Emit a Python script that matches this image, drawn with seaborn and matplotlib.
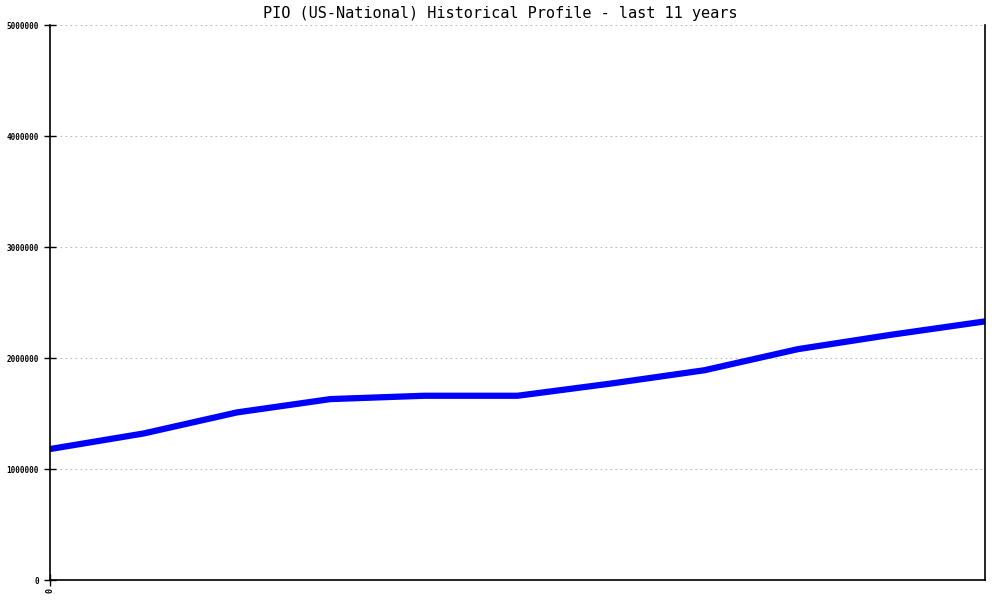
import matplotlib
matplotlib.use("Agg")
import matplotlib.pyplot as plt
import seaborn as sns
import pandas as pd

# data (one point per year, last 11 years)
years = list(range(11))
subscribers = [1180000, 1320000, 1510000, 1630000, 1660000, 1660000,
               1770000, 1890000, 2080000, 2210000, 2330000]
y_ticks = [0, 1000000, 2000000, 3000000, 4000000, 5000000]
title = "PIO (US-National) Historical Profile - last 11 years"

sns.set_style("white")
plt.rcParams['font.family'] = ['DejaVu Sans Mono', 'DejaVu Sans']
plt.rcParams['text.color'] = 'black'
plt.rcParams['xtick.color'] = 'black'
plt.rcParams['ytick.color'] = 'black'

df = pd.DataFrame({"year": years, "value": subscribers})

fig = plt.figure(figsize=(10, 6), dpi=100)
ax = fig.add_axes([0.05, 0.0333, 0.935, 0.925])

sns.lineplot(data=df, x="year", y="value", color="#0000ff", linewidth=4.5, ax=ax)

ax.set_xlim(0, 10)
ax.set_ylim(0, 5000000)
ax.set_yticks(y_ticks)
ax.set_yticklabels([str(v) for v in y_ticks], fontsize=5.5, fontweight="bold")
ax.set_xticks([0])
ax.set_xticklabels(["0"], rotation=90, fontsize=6, fontweight="bold")
ax.tick_params(axis="y", direction="inout", length=8, width=1, pad=4, left=True)
ax.tick_params(axis="x", direction="inout", length=8, width=1, pad=2, bottom=True)
ax.set_xlabel("")
ax.set_ylabel("")

ax.yaxis.grid(True, linestyle=(0, (1.5, 3)), color="#bbbbbb", linewidth=0.8)
ax.xaxis.grid(False)
ax.set_axisbelow(True)

for side in ["left", "bottom", "right"]:
    ax.spines[side].set_visible(True)
    ax.spines[side].set_color("black")
    ax.spines[side].set_linewidth(1.2)
ax.spines["top"].set_visible(False)

fig.text(0.5, 0.978, title, ha="center", va="center", fontsize=11)

fig.savefig("out.png", dpi=100)
